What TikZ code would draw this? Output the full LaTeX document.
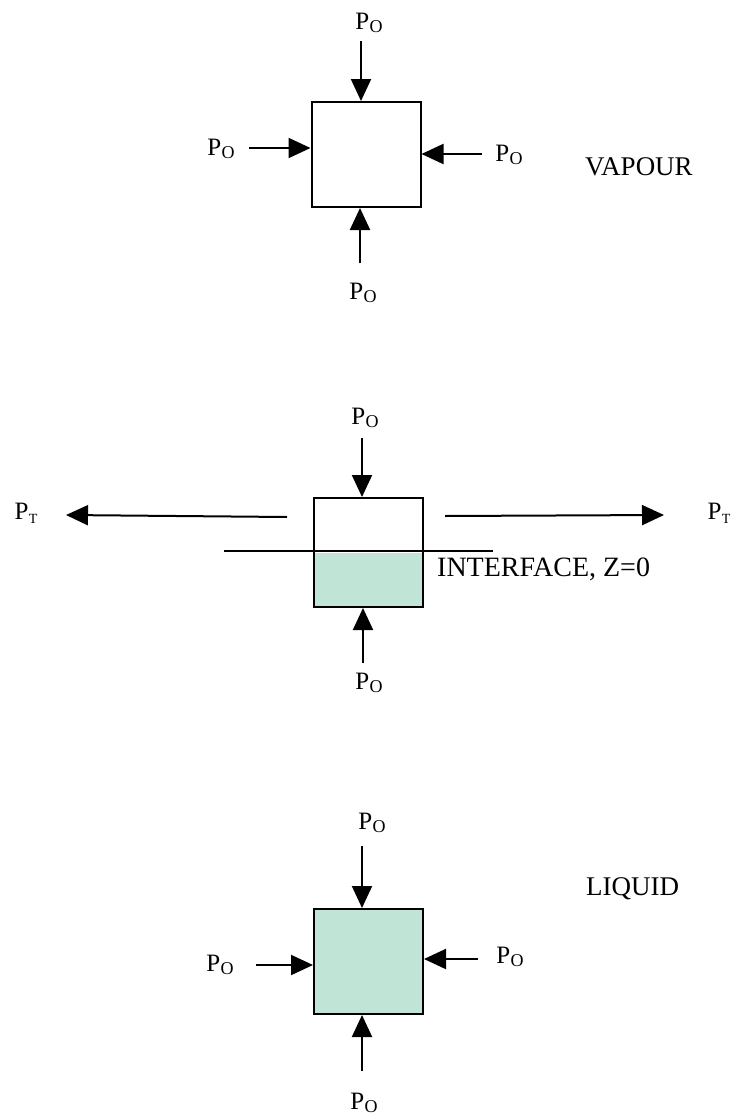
\documentclass[tikz,border=0pt]{standalone}
\usepackage{fontspec}
\setmainfont{Liberation Serif}
\usetikzlibrary{arrows.meta}
\definecolor{liq}{RGB}{192,228,214}
\newcommand\Pso{\fontsize{25}{25}\selectfont P\kern0.3pt\raisebox{-2.5pt}{\fontsize{18}{18}\selectfont O}}
\newcommand\Pst{\fontsize{25}{25}\selectfont P\kern0.5pt\raisebox{-4pt}{\fontsize{14}{14}\selectfont T}}
\begin{document}
\begin{tikzpicture}[x=1pt,y=-1pt,
  lbl/.style={inner sep=0pt},
  word/.style={inner sep=0pt,anchor=base west,font=\fontsize{27}{27}\selectfont},
  cell/.style={draw,line width=2pt,minimum width=109pt,minimum height=105pt,inner sep=0pt},
  arr/.style={line width=2pt,-{Triangle[length=22pt,width=20pt]}},
  thin/.style={line width=1.5pt}]
\useasboundingbox (0,0) rectangle (733,1116);

% ---------- VAPOUR ----------
\node[cell] (b1) at (366,154.5) {};
\node[lbl] (v1t) at (369,23) {\Pso};
\node[lbl] (v1l) at (221,149) {\Pso};
\node[lbl] (v1r) at (509,155) {\Pso};
\node[lbl] (v1b) at (363,293) {\Pso};
\coordinate (a1t) at (361,41);
\coordinate (a1l) at (249,148);
\coordinate (a1r) at (482,154);
\coordinate (a1b) at (360,263);
\draw[arr] (a1t) -- (a1t |- b1.north);
\draw[arr] (a1l) -- (a1l -| b1.west);
\draw[arr] (a1r) -- (a1r -| b1.east);
\draw[arr] (a1b) -- (a1b |- b1.south);
\node[word] (vap) at (585,175.7) {VAPOUR};

% ---------- INTERFACE ----------
\node[cell,minimum height=109pt,
  path picture={\fill[liq] (path picture bounding box.west) rectangle (path picture bounding box.south east);}]
  (b2) at (368.5,552.5) {};
\coordinate (i1) at (224,551);
\coordinate (i2) at (493,551);
\draw[thin] (i1) -- (i2);
\node[lbl] (m2t) at (365,418) {\Pso};
\node[lbl] (m2b) at (369,683) {\Pso};
\coordinate (a2t) at (362,438);
\coordinate (a2b) at (363,663);
\draw[arr] (a2t) -- (a2t |- b2.north);
\draw[arr] (a2b) -- (a2b |- b2.south);
\coordinate (l2s) at (287,517);
\coordinate (l2e) at (66,515);
\coordinate (r2s) at (445,516);
\coordinate (r2e) at (664,515);
\draw[arr] (l2s) -- (l2e);
\draw[arr] (r2s) -- (r2e);
\node[lbl] (ptl) at (26,513) {\Pst};
\node[lbl] (ptr) at (719,513) {\Pst};
\node[inner sep=0pt,anchor=base west,font=\fontsize{28}{28}\selectfont] (intf) at (437,576) {INTERFACE, Z=0};

% ---------- LIQUID ----------
\node[cell,fill=liq] (b3) at (368.5,961.5) {};
\node[lbl] (q3t) at (372,823) {\Pso};
\node[lbl] (q3l) at (220,965) {\Pso};
\node[lbl] (q3r) at (510,957) {\Pso};
\node[lbl] (q3b) at (364,1103) {\Pso};
\coordinate (a3t) at (362,846);
\coordinate (a3l) at (256,965);
\coordinate (a3r) at (478,959);
\coordinate (a3b) at (362,1071);
\draw[arr] (a3t) -- (a3t |- b3.north);
\draw[arr] (a3l) -- (a3l -| b3.west);
\draw[arr] (a3r) -- (a3r -| b3.east);
\draw[arr] (a3b) -- (a3b |- b3.south);
\node[word] (liqw) at (586,895.7) {LIQUID};
\end{tikzpicture}
\end{document}
